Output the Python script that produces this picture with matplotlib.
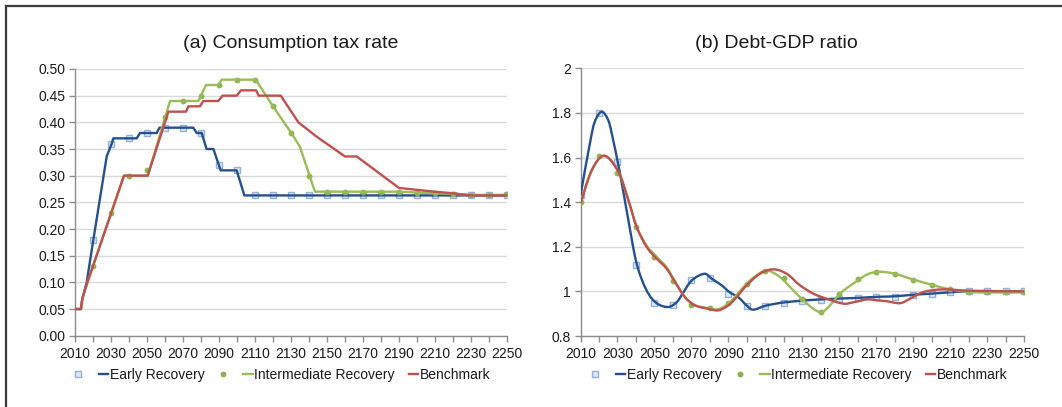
import matplotlib
matplotlib.use("Agg")
import matplotlib.pyplot as plt
from matplotlib.lines import Line2D
from matplotlib.path import Path
from matplotlib.patches import PathPatch
from matplotlib.ticker import MultipleLocator, FixedLocator, FormatStrFormatter, FuncFormatter

plt.rcParams['font.family'] = ['Liberation Sans', 'DejaVu Sans']

# ---------------- data ----------------
decades = [2010, 2020, 2030, 2040, 2050, 2060, 2070, 2080, 2090, 2100, 2110, 2120, 2130,
           2140, 2150, 2160, 2170, 2180, 2190, 2200, 2210, 2220, 2230, 2240, 2250]
year_labels = [2010, 2030, 2050, 2070, 2090, 2110, 2130, 2150, 2170, 2190, 2210, 2230, 2250]

# (a) consumption tax rate – line breakpoints
tax_early_years = [2010, 2013.3, 2014.1, 2016.5, 2020.2, 2027.6, 2030.4, 2031.3, 2044.3, 2046.1,
                   2055.4, 2056.9, 2075.7, 2077.6, 2080.4, 2083.1, 2086.9, 2090.9, 2099.8, 2104.1, 2250]
tax_early = [0.05, 0.05, 0.07, 0.10, 0.18, 0.336, 0.36, 0.37, 0.37, 0.38,
             0.38, 0.39, 0.39, 0.38, 0.38, 0.35, 0.35, 0.31, 0.31, 0.263, 0.263]

tax_inter_years = [2010, 2013.3, 2014.1, 2016.9, 2037.2, 2050.4, 2062.8, 2078.5, 2080, 2082.8,
                   2089.6, 2091.5, 2110.4, 2120.2, 2130.4, 2135, 2140.2, 2143.3, 2190, 2210,
                   2220, 2230, 2250]
tax_inter = [0.05, 0.05, 0.07, 0.10, 0.30, 0.30, 0.44, 0.44, 0.45, 0.47,
             0.47, 0.48, 0.48, 0.429, 0.379, 0.354, 0.301, 0.27, 0.27, 0.267,
             0.266, 0.264, 0.264]

tax_bench_years = [2010, 2013.3, 2014.1, 2016.9, 2037.2, 2050.4, 2061.9, 2071.7, 2073, 2079.4,
                   2081.3, 2089.6, 2092, 2099.8, 2102.2, 2110.6, 2112.1, 2124.3, 2134.1, 2144.3,
                   2160, 2166.5, 2190, 2209.8, 2219.8, 2229.8, 2250]
tax_bench = [0.05, 0.05, 0.07, 0.10, 0.30, 0.30, 0.42, 0.42, 0.43, 0.43,
             0.44, 0.44, 0.45, 0.45, 0.46, 0.46, 0.45, 0.45, 0.40, 0.373,
             0.336, 0.336, 0.277, 0.27, 0.267, 0.263, 0.263]

# (a) decade markers (from 2020)
tax_mark_years = decades[1:]
tax_early_marks = [0.18, 0.36, 0.37, 0.38, 0.39, 0.39, 0.38, 0.32, 0.31, 0.263,
                   0.263, 0.263, 0.263, 0.263, 0.263, 0.263, 0.263, 0.263, 0.263, 0.263,
                   0.263, 0.263, 0.263, 0.263]
tax_inter_marks = [0.13, 0.23, 0.30, 0.31, 0.41, 0.44, 0.45, 0.47, 0.48, 0.48,
                   0.43, 0.38, 0.30, 0.27, 0.27, 0.27, 0.27, 0.27, 0.268, 0.267,
                   0.266, 0.264, 0.264, 0.265]

# (b) debt-GDP ratio – smoothed curves
debt_early_years = [2010, 2016.1, 2018.8, 2021.8, 2025, 2026.9, 2031.4, 2035.9, 2040.4, 2045.8,
                    2051.2, 2057.5, 2062.1, 2064.8, 2070.2, 2077, 2081, 2086.4, 2090.9, 2095.4,
                    2099.9, 2103.5, 2110.8, 2121.6, 2139.6, 2157.6, 2172.1, 2180.2, 2190.1, 2200,
                    2210, 2220.8, 2250]
debt_early = [1.43, 1.708, 1.78, 1.805, 1.768, 1.708, 1.528, 1.319, 1.124, 1.004,
              0.947, 0.93, 0.952, 0.984, 1.049, 1.079, 1.057, 1.027, 0.995, 0.974,
              0.937, 0.918, 0.937, 0.952, 0.964, 0.97, 0.976, 0.978, 0.985, 0.99,
              0.996, 1.0, 1.0]

debt_inter_years = [2010, 2016.1, 2022.9, 2030.5, 2035.9, 2040.4, 2045.8, 2051.2, 2056.6, 2061.1,
                    2066.5, 2072, 2079.2, 2084.6, 2090, 2092.7, 2099.9, 2105.3, 2110.8, 2118,
                    2125.2, 2130.6, 2136, 2140.5, 2145, 2150.4, 2157.6, 2164.9, 2170.3, 2173.9,
                    2180.2, 2190.1, 2200, 2210, 2220.8, 2230, 2250]
debt_inter = [1.394, 1.543, 1.608, 1.536, 1.409, 1.289, 1.205, 1.155, 1.108, 1.045,
              0.976, 0.938, 0.925, 0.92, 0.945, 0.967, 1.035, 1.072, 1.094, 1.064,
              1.004, 0.96, 0.922, 0.907, 0.937, 0.99, 1.035, 1.075, 1.087, 1.087,
              1.079, 1.053, 1.03, 1.009, 0.997, 0.995, 0.995]

debt_bench_years = [2010, 2016.1, 2022.9, 2030.5, 2035.9, 2040.4, 2045.8, 2051.2, 2056.6, 2061.1,
                    2066.5, 2072, 2079.2, 2084.6, 2090, 2094.5, 2099.9, 2107.1, 2114.3, 2121.6,
                    2128.8, 2136, 2143.2, 2152.2, 2157.6, 2164.9, 2170.3, 2175.7, 2182.9, 2188.3,
                    2195.5, 2206.3, 2220.8, 2250]
debt_bench = [1.394, 1.543, 1.608, 1.536, 1.409, 1.289, 1.199, 1.147, 1.102, 1.042,
              0.974, 0.937, 0.922, 0.915, 0.937, 0.974, 1.027, 1.079, 1.099, 1.079,
              1.027, 0.99, 0.967, 0.945, 0.951, 0.964, 0.96, 0.956, 0.947, 0.967,
              0.997, 1.009, 1.003, 1.0]

debt_early_marks = [1.43, 1.80, 1.58, 1.12, 0.95, 0.937, 1.049, 1.06, 0.99, 0.935,
                    0.935, 0.95, 0.957, 0.963, 0.966, 0.97, 0.974, 0.977, 0.985, 0.99,
                    0.995, 1.0, 1.0, 1.0, 1.0]
debt_inter_marks = [1.40, 1.605, 1.53, 1.29, 1.155, 1.045, 0.94, 0.925, 0.95, 1.033,
                    1.09, 1.06, 0.965, 0.907, 0.99, 1.055, 1.087, 1.079, 1.053, 1.03,
                    1.009, 0.997, 0.995, 0.995, 0.995]

series_names = ["Early Recovery", "Intermediate Recovery", "Benchmark"]

# ---------------- style ----------------
C_BLUE = "#24508f"
C_GREEN = "#9bbb59"
C_RED = "#c0504d"
C_MARK_BLUE_EDGE = "#93b1da"
C_MARK_BLUE_FACE = "#dde7f3"
C_MARK_GREEN = "#8cb44e"
GRID = "#d9d9d9"
AXIS = "#8c8c8c"
TEXT = "#1a1a1a"
LW = 1.7


def smooth_path(xs, ys):
    """Cubic Bezier path through the given points (Catmull-Rom style)."""
    pts = list(zip(xs, ys))
    verts = [pts[0]]
    codes = [Path.MOVETO]
    n = len(pts)
    for i in range(n - 1):
        p0 = pts[i - 1] if i > 0 else pts[i]
        p1 = pts[i]
        p2 = pts[i + 1]
        p3 = pts[i + 2] if i + 2 < n else pts[i + 1]
        c1 = (p1[0] + (p2[0] - p0[0]) / 6.0, p1[1] + (p2[1] - p0[1]) / 6.0)
        c2 = (p2[0] - (p3[0] - p1[0]) / 6.0, p2[1] - (p3[1] - p1[1]) / 6.0)
        verts += [c1, c2, p2]
        codes += [Path.CURVE4, Path.CURVE4, Path.CURVE4]
    return Path(verts, codes)


def style_axes(ax, ymin, ymax, ystep, fmt):
    ax.set_xlim(2010, 2250)
    ax.set_ylim(ymin, ymax)
    ax.xaxis.set_major_locator(FixedLocator(year_labels))
    ax.xaxis.set_minor_locator(FixedLocator(decades))
    ax.yaxis.set_major_locator(MultipleLocator(ystep))
    ax.yaxis.set_major_formatter(fmt)
    ax.grid(axis='y', color=GRID, linewidth=1.0)
    ax.set_axisbelow(True)
    for side in ("top", "right"):
        ax.spines[side].set_visible(False)
    for side in ("left", "bottom"):
        ax.spines[side].set_color(AXIS)
        ax.spines[side].set_linewidth(1.0)
    ax.tick_params(axis='both', which='both', direction='out', color=AXIS,
                   length=4, width=1.0, labelsize=10, labelcolor=TEXT, pad=3)
    ax.tick_params(axis='x', which='major', pad=4)


fig = plt.figure(figsize=(10.62, 4.07), dpi=100)

# outer frame (top and left edges)
fig.add_artist(Line2D([6 / 1062, 1.0], [1 - 5.5 / 407, 1 - 5.5 / 407],
                      transform=fig.transFigure, color="#3c3c3c", linewidth=1.6))
fig.add_artist(Line2D([6 / 1062, 6 / 1062], [0.0, 1 - 5.5 / 407],
                      transform=fig.transFigure, color="#3c3c3c", linewidth=1.6))

# ---------------- (a) consumption tax rate ----------------
ax1 = fig.add_axes([75 / 1062, 1 - 335.7 / 407, 432 / 1062, 266.7 / 407])
style_axes(ax1, 0.0, 0.5, 0.05, FormatStrFormatter('%.2f'))

m1, = ax1.plot(tax_mark_years, tax_early_marks, linestyle='none', marker='s', markersize=4.5,
               markerfacecolor=C_MARK_BLUE_FACE, markeredgecolor=C_MARK_BLUE_EDGE,
               markeredgewidth=1.0, zorder=3)
l1, = ax1.plot(tax_early_years, tax_early, color=C_BLUE, linewidth=LW, zorder=4)
m2, = ax1.plot(tax_mark_years, tax_inter_marks, linestyle='none', marker='o', markersize=3.2,
               color=C_MARK_GREEN, zorder=5)
l2, = ax1.plot(tax_inter_years, tax_inter, color=C_GREEN, linewidth=LW, zorder=5)
l3, = ax1.plot(tax_bench_years, tax_bench, color=C_RED, linewidth=LW, zorder=6)

fig.text(291 / 1062, 1 - 43 / 407, "(a) Consumption tax rate", ha='center', va='center',
         fontsize=14, color=TEXT)

# ---------------- (b) debt-GDP ratio ----------------
ax2 = fig.add_axes([580.5 / 1062, 1 - 336 / 407, 443.5 / 1062, 267.7 / 407])
style_axes(ax2, 0.8, 2.0, 0.2, FuncFormatter(lambda v, p: f"{v:.1f}".rstrip('0').rstrip('.')))

ax2.plot(decades, debt_early_marks, linestyle='none', marker='s', markersize=4.5,
         markerfacecolor=C_MARK_BLUE_FACE, markeredgecolor=C_MARK_BLUE_EDGE,
         markeredgewidth=1.0, zorder=3)
ax2.add_patch(PathPatch(smooth_path(debt_early_years, debt_early), fill=False,
                        edgecolor=C_BLUE, linewidth=LW, zorder=4))
ax2.plot(decades, debt_inter_marks, linestyle='none', marker='o', markersize=3.2,
         color=C_MARK_GREEN, zorder=5)
ax2.add_patch(PathPatch(smooth_path(debt_inter_years, debt_inter), fill=False,
                        edgecolor=C_GREEN, linewidth=LW, zorder=5))
ax2.add_patch(PathPatch(smooth_path(debt_bench_years, debt_bench), fill=False,
                        edgecolor=C_RED, linewidth=LW, zorder=6))

fig.text(776 / 1062, 1 - 43 / 407, "(b) Debt-GDP ratio", ha='center', va='center',
         fontsize=14, color=TEXT)

# ---------------- legends ----------------
handles = [m1, l1, m2, l2, l3]
labels = ["", series_names[0], "", series_names[1], series_names[2]]
for cx in (282 / 1062, 799 / 1062):
    fig.legend(handles, labels, loc='center', bbox_to_anchor=(cx, 1 - 375 / 407),
               ncol=5, frameon=False, fontsize=10, handlelength=0.7,
               handletextpad=0.1, columnspacing=1.0, labelcolor=TEXT,
               borderpad=0, borderaxespad=0)

fig.savefig("out.png", dpi=100)
